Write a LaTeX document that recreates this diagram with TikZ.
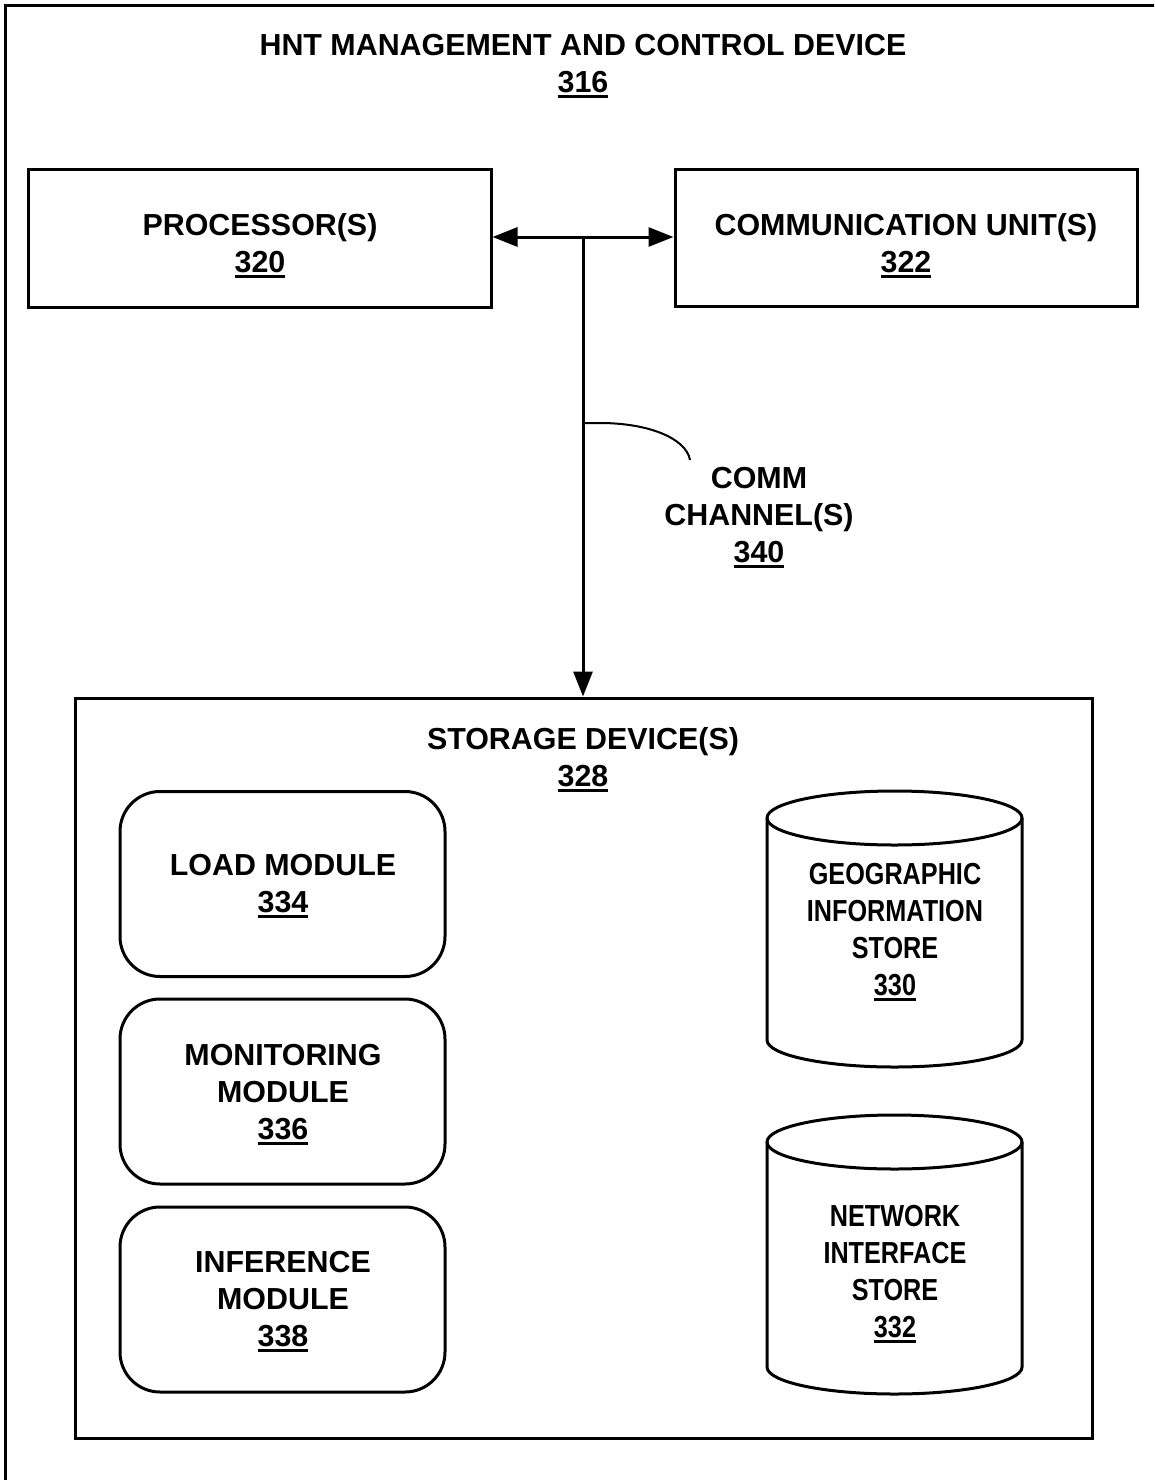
\documentclass[tikz,border=0pt]{standalone}
\usepackage{fontspec}
\setmainfont{Liberation Sans}
\newfontfamily\narrowfont[FakeStretch=0.83]{Liberation Sans}
\usetikzlibrary{arrows.meta}

% reference number with a heavy underline
\newcommand\refnum[1]{\setbox0=\hbox{#1}\rlap{\vrule width \wd0 height -2.5pt depth 5.5pt}\box0}

\tikzset{
  lbl/.style={font=\bfseries\fontsize{30.4}{37}\selectfont, align=center, inner sep=0pt},
  nlbl/.style={font=\narrowfont\bfseries\fontsize{30.4}{37}\selectfont, align=center, inner sep=0pt},
  box/.style={draw, line width=3pt, rectangle, inner sep=0pt},
  modbox/.style={box, rounded corners=40pt, minimum width=325pt, minimum height=185pt},
  conn/.style={line width=3pt, -{Triangle[length=25pt,width=19pt]}},
  leader/.style={line width=2pt}
}

\begin{document}
\begin{tikzpicture}[x=1pt, y=-1pt]
\useasboundingbox (0,0) rectangle (1154,1480);
\clip (0,0) rectangle (1154,1480);
\fill[white] (0,0) rectangle (1154,1480);

% outer device frame (runs past the right and bottom edges)
\draw[line width=3pt] (5,1500) -- (5,6) -- (1170,6);
\node[lbl] (title) at (583,66) {HNT MANAGEMENT AND CONTROL DEVICE\\\refnum{316}};

% processor and communication unit
\node[box, minimum width=463pt, minimum height=138pt] (proc) at (259.5,238) {};
\node[lbl] (proctxt) at (260,246) {PROCESSOR(S)\\\refnum{320}};
\node[box, minimum width=462pt, minimum height=137pt] (comm) at (906,237.5) {};
\node[lbl] (commtxt) at (906,246) {COMMUNICATION UNIT(S)\\\refnum{322}};

% storage device container
\node[box, minimum width=1017pt, minimum height=740pt] (stor) at (583.5,1068) {};
\node[lbl] (stortxt) at (583,760) {STORAGE DEVICE(S)\\\refnum{328}};

% communication channel bus
\coordinate (hub) at (583,237);
\coordinate (tap) at (583,423);
\draw[conn] (hub) -- (proc.east |- hub);
\draw[conn] (hub) -- (comm.west |- hub);
\draw[conn] (hub) -- (stor.north -| hub);
\node[lbl] (chantxt) at (759,518) {COMM\\CHANNEL(S)\\\refnum{340}};
\coordinate (leadend) at (690,460);
\draw[leader] (tap) -- (600,423) .. controls (648,423) and (686,438) .. (leadend);

% modules
\node[modbox] (load) at (282.5,884) {};
\node[lbl] (loadtxt) at (283,886) {LOAD MODULE\\\refnum{334}};
\node[modbox] (mon) at (282.5,1091.5) {};
\node[lbl] (montxt) at (283,1095) {MONITORING\\MODULE\\\refnum{336}};
\node[modbox] (inf) at (282.5,1299.5) {};
\node[lbl] (inftxt) at (283,1302) {INFERENCE\\MODULE\\\refnum{338}};

% data stores
\foreach \n/\top/\bot in {geo/818/1040, net/1142/1367}{
  \draw[line width=3pt, fill=white]
    (767,\top) -- (767,\bot) arc[start angle=180, end angle=360, x radius=127.5, y radius=-27]
    -- (1022,\top) arc[start angle=0, end angle=180, x radius=127.5, y radius=-27] -- cycle;
  \draw[line width=3pt] (767,\top) arc[start angle=180, end angle=360, x radius=127.5, y radius=-27];
  \coordinate (\n) at (894.5,\top);
}
\node[nlbl] (geotxt) at (895,932) {GEOGRAPHIC\\INFORMATION\\STORE\\\refnum{330}};
\node[nlbl] (nettxt) at (895,1274) {NETWORK\\INTERFACE\\STORE\\\refnum{332}};
\end{tikzpicture}
\end{document}
